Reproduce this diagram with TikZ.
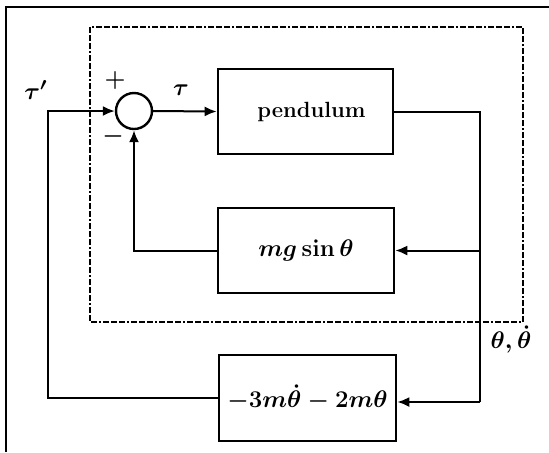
\documentclass[tikz,border=0pt]{standalone}
\usetikzlibrary{arrows.meta}
\begin{document}
\begin{tikzpicture}[x=0.5pt,y=-0.5pt,
  blk/.style={draw,line width=1.3pt,inner sep=0pt},
  conn/.style={line width=1pt},
  arr/.style={conn,-{Latex[length=6pt,width=5pt]}},
  lbl/.style={font=\fontsize{11.5}{13}\selectfont\boldmath,inner sep=0pt},
  frame/.style={line width=1.2pt},
  subsys/.style={line width=1.1pt,dash pattern=on 3pt off 1pt on 3pt off 1pt on 3pt off 1pt on 1pt off 1pt},
  ]
\useasboundingbox (0,0) rectangle (549,452);
% outer frame (partly cropped)
\draw[frame] (6,452) -- (6,7) -- (549,7);
% subsystem boundary
\draw[subsys] (90,27) rectangle (523,322);
% blocks
\node[blk,minimum width=87.5pt,minimum height=42.5pt,font=\fontsize{11}{12}\selectfont\bfseries] (pend) at (305.5,111.5) {\hspace{6pt}pendulum};
\node[blk,minimum width=88pt,minimum height=42.5pt,lbl] (mgs) at (306,250.5) {$mg\sin\theta$};
\node[blk,minimum width=88.5pt,minimum height=43pt,lbl] (fb) at (307.5,398) {$-3m\dot\theta-2m\theta$};
\node[draw,circle,line width=1.2pt,minimum size=18pt,inner sep=0pt] (sum) at (134,111) {};
% labels
\node[lbl] (plus) at (115,80) {$+$};
\node[lbl] (minus) at (113,136) {$-$};
\node[lbl,font=\fontsize{13}{14}\selectfont\boldmath] (tauin) at (36,90) {$\tau'$};
\node[lbl] (tau) at (181,90) {$\tau$};
\node[lbl] (out) at (511,339) {$\theta,\dot\theta$};
% coordinates
\coordinate (j1) at (480,111.5);
\coordinate (j2) at (480,402);
\coordinate (c1) at (48,111);
% connectors
\draw[arr] (sum.east) -- (pend.west);
\draw[conn] (pend.east) -- (j1) -- (j2);
\draw[arr] (mgs.east -| j1) -- (mgs.east);
\draw[arr] (j2) -- (j2 -| fb.east);
\draw[arr] (mgs.west) -| (sum.south);
\draw[arr] (fb.west) -| (c1) -- (sum.west);
\end{tikzpicture}
\end{document}
